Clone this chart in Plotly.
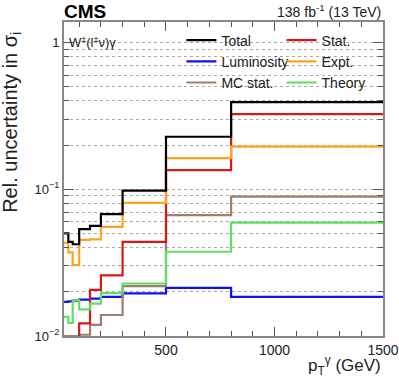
import plotly.graph_objects as go

# bin edges in photon pT (GeV)
pt_edges = [30, 50, 70, 100, 150, 200, 300, 500, 800, 1500]

# relative uncertainties per bin
total = [0.050, 0.0438, 0.0422, 0.0535, 0.0563, 0.0676, 0.098, 0.228, 0.393]
stat = [0.009, 0.009, 0.009, 0.0122, 0.0206, 0.0259, 0.0438, 0.135, 0.325]
lumi = [0.0171, 0.0172, 0.0174, 0.0177, 0.0180, 0.0185, 0.0195, 0.0213, 0.0185]
expt = [0.0432, 0.0372, 0.0304, 0.0452, 0.0455, 0.0554, 0.0807, 0.163, 0.195]
mcstat = [0.0100, 0.0100, 0.0100, 0.0102, 0.0119, 0.0139, 0.0219, 0.0666, 0.089]
theory = [0.0135, 0.0123, 0.0175, 0.0152, 0.0166, 0.0196, 0.0228, 0.0375, 0.0593]

# (name, values, colour, legend, rank) - drawn in this order, total last
series = [
    ("Luminosity", lumi, "#1010f0", "legend", 2),
    ("MC stat.", mcstat, "#a07e6e", "legend", 3),
    ("Stat.", stat, "#d81818", "legend2", 1),
    ("Expt.", expt, "#ffa21f", "legend2", 2),
    ("Theory", theory, "#62dc62", "legend2", 3),
    ("Total", total, "#000000", "legend", 1),
]

decades = [0.01, 0.1, 1]
minor_vals = [m * d for d in decades for m in range(2, 10) if m * d < 1.4]

fig = go.Figure()
for name, vals, color, leg, rank in series:
    fig.add_trace(go.Scatter(
        x=pt_edges,
        y=vals + [vals[-1]],
        mode="lines",
        line=dict(shape="hv", color=color, width=2.2),
        name=name,
        legend=leg,
        legendrank=rank,
    ))

font = "Liberation Sans, Arial, sans-serif"
fig.update_layout(
    width=399, height=383,
    margin=dict(l=64, r=16, t=22, b=47, autoexpand=False),
    paper_bgcolor="white",
    plot_bgcolor="white",
    font=dict(family=font, size=14, color="#222"),
    xaxis=dict(
        range=[30, 1500],
        tickvals=[500, 1000, 1500],
        ticks="inside", ticklen=9, tickwidth=1, tickcolor="#555",
        minor=dict(tickvals=list(range(100, 1500, 100)), ticks="inside",
                   ticklen=5, tickcolor="#555", showgrid=False),
        showgrid=False, zeroline=False,
        showline=True, linecolor="#888", linewidth=2, mirror="allticks",
        tickfont=dict(size=14),
    ),
    yaxis=dict(
        type="log",
        range=[-2, 0.14],
        tickvals=decades,
        ticktext=["10<sup>\u22122</sup>", "10<sup>\u22121</sup>", "1"],
        ticks="inside", ticklen=10, tickwidth=1, tickcolor="#555",
        showgrid=True, griddash="dot", gridcolor="#aaa", gridwidth=1,
        minor=dict(tickvals=minor_vals, ticks="inside", ticklen=5,
                   tickcolor="#555", showgrid=True, griddash="dot",
                   gridcolor="#aaa", gridwidth=1),
        zeroline=False,
        showline=True, linecolor="#888", linewidth=2, mirror="allticks",
        tickfont=dict(size=13),
    ),
    legend=dict(x=0.368, y=0.992, xanchor="left", yanchor="top",
                bgcolor="rgba(0,0,0,0)", font=dict(size=14),
                tracegroupgap=0, itemwidth=30),
    legend2=dict(x=0.682, y=0.992, xanchor="left", yanchor="top",
                 bgcolor="rgba(0,0,0,0)", font=dict(size=14),
                 tracegroupgap=0, itemwidth=30),
    showlegend=True,
)

# white box behind the legend hides the grid there
fig.add_shape(type="rect", xref="paper", yref="paper",
              x0=0.41, x1=0.981, y0=0.777, y1=0.99,
              fillcolor="white", line_width=0, layer="between")

fig.add_annotation(text="<b>CMS</b>", xref="paper", yref="paper",
                   x=-0.005, y=1.035, xanchor="left", yanchor="middle",
                   showarrow=False, font=dict(size=19, color="black"))
fig.add_annotation(text="138 fb<sup>-1</sup> (13 TeV)", xref="paper", yref="paper",
                   x=1.0, y=1.035, xanchor="right", yanchor="middle",
                   showarrow=False, font=dict(size=14))
fig.add_annotation(text="W<sup>\u00b1</sup>(l<sup>\u00b1</sup>\u03bd)\u03b3",
                   xref="paper", yref="paper", x=0.008, y=0.936,
                   xanchor="left", yanchor="middle", showarrow=False,
                   font=dict(size=13))
fig.add_annotation(text="Rel. uncertainty in \u03c3<sub>i</sub>",
                   xref="paper", yref="paper", x=-0.21, y=0.975,
                   xanchor="left", yanchor="top", textangle=-90,
                   showarrow=False, font=dict(size=20))
fig.add_annotation(text="p<sub>T</sub><sup>\u03b3</sup> (GeV)",
                   xref="paper", yref="paper", x=1.0, y=-0.095,
                   xanchor="right", yanchor="middle", showarrow=False,
                   font=dict(size=17))

fig.write_html("out.html", config={"displayModeBar": False},
               post_script="document.body.style.margin='0';")
